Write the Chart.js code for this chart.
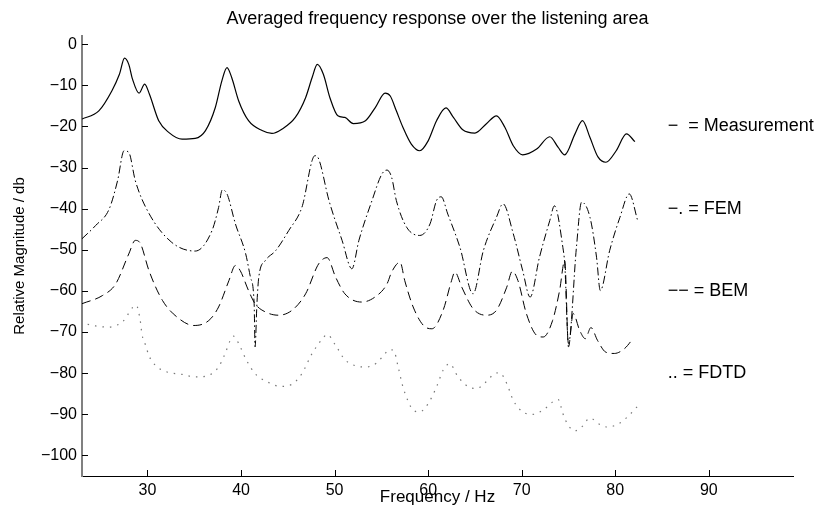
<!DOCTYPE html>
<html>
<head>
<meta charset="utf-8">
<title>Averaged frequency response</title>
<script src="https://cdn.jsdelivr.net/npm/chart.js@4.4.1/dist/chart.umd.min.js"></script>
<style>
    body { margin: 0; background: #ffffff; }
    canvas { display: block; }
</style>
</head>
<body>
<canvas id="response-chart" width="825" height="515"></canvas>
<script>
// Averaged frequency response - measurement vs. three simulation methods

// Measurement (solid)
const measFreq = [23.0, 24.8, 26.2, 27.0, 27.55, 28.0, 28.4, 29.1, 29.7, 30.2, 31.2, 32.3, 33.7, 35.1, 36.2, 37.25, 37.95, 38.5, 39.0, 39.75,
    40.8, 42.25, 43.3, 44.4, 45.8, 46.9, 47.6, 48.15, 48.8, 49.5, 50.35, 51.1, 52.0, 53.3, 54.35, 55.4, 55.95, 56.6, 57.3, 58.2,
    59.1, 60.0, 60.9, 61.9, 62.7, 63.7, 65.0, 66.2, 67.3, 68.2, 69.1, 70.1, 71.6, 73.0, 73.9, 74.6, 75.7, 76.5, 77.3, 78.15,
    79.0, 80.1, 81.2, 82.1];
const measDb = [-18.2, -16.2, -11.3, -7.3, -3.4, -4.9, -8.5, -11.9, -9.7, -12.1, -18.6, -21.5, -23.1, -22.9, -21.0, -15.4, -8.9, -5.7, -8.1, -13.8,
    -18.6, -21.0, -21.7, -20.6, -17.8, -13.0, -8.1, -4.9, -7.3, -13.0, -17.4, -17.8, -19.3, -18.6, -15.4, -11.9, -12.6, -16.2, -20.2, -24.3,
    -25.9, -23.5, -18.6, -15.5, -17.8, -20.8, -21.6, -19.4, -17.4, -20.2, -24.7, -26.9, -25.5, -22.5, -25.1, -26.9, -21.8, -18.6, -22.7, -27.4,
    -28.7, -25.9, -21.8, -23.7];

// FEM (dash-dot)
const femFreq = [23.0, 24.45, 25.9, 26.8, 27.5, 28.0, 28.7, 30.1, 32.6, 35.1, 36.9, 37.6, 38.0, 38.5, 39.4, 40.5, 41.0, 41.4, 41.5, 41.7,
    41.9, 42.6, 43.7, 45.1, 46.5, 47.9, 48.3, 49.4, 50.8, 51.85, 52.6, 54.0, 55.05, 55.6, 56.1, 56.6, 57.7, 59.1, 60.2, 60.9,
    61.4, 62.1, 63.4, 64.8, 65.9, 67.3, 68.0, 69.1, 70.1, 70.9, 71.9, 73.0, 73.5, 74.4, 74.6, 75.0, 75.85, 76.4, 77.3, 78.0,
    78.4, 79.4, 80.5, 81.5, 82.4];
const femDb = [-47.3, -44.1, -40.1, -33.2, -25.9, -26.3, -33.2, -40.9, -48.2, -50.3, -45.3, -39.7, -35.4, -36.4, -43.7, -51.0, -56.6, -63.1, -73.6, -63.0,
    -56.6, -52.6, -50.2, -45.3, -39.7, -27.1, -27.9, -38.0, -47.7, -54.6, -47.7, -38.0, -31.6, -30.6, -32.4, -38.0, -44.5, -46.5, -43.7, -38.0,
    -37.1, -41.3, -49.4, -60.7, -50.2, -42.1, -38.8, -46.1, -55.0, -61.5, -51.8, -42.9, -39.3, -49.4, -53.4, -72.8, -49.4, -38.4, -42.1, -51.8,
    -59.9, -50.2, -42.1, -36.4, -42.9];

// BEM (dashed)
const bemFreq = [23.0, 25.2, 26.6, 28.0, 28.7, 29.25, 30.15, 31.6, 33.35, 34.95, 36.55, 37.6, 38.7, 39.4, 39.9, 40.8, 41.5, 42.6, 44.0, 45.45,
    46.9, 48.3, 49.2, 50.1, 51.1, 52.9, 54.3, 55.6, 56.1, 57.0, 57.5, 58.4, 59.5, 60.4, 61.6, 62.5, 62.85, 63.6, 64.8, 66.2,
    67.3, 68.4, 69.0, 69.6, 70.5, 71.6, 72.3, 73.3, 74.05, 74.6, 75.0, 75.5, 76.2, 76.8, 77.4, 78.1, 79.0, 79.9, 81.0, 81.9];
const bemDb = [-63.1, -61.1, -58.3, -51.0, -47.7, -48.5, -55.0, -62.3, -66.7, -68.4, -67.2, -63.9, -57.5, -53.8, -55.0, -59.9, -63.1, -65.1, -65.9, -64.7,
    -60.7, -53.4, -51.9, -56.6, -60.7, -62.7, -61.5, -58.3, -55.4, -53.0, -57.5, -63.9, -68.4, -69.2, -64.7, -57.5, -55.4, -59.1, -64.3, -65.9,
    -64.7, -59.1, -55.2, -57.5, -65.5, -70.8, -71.2, -67.2, -59.9, -52.6, -73.6, -65.5, -69.6, -71.6, -68.9, -72.0, -74.9, -75.2, -74.0, -71.6];

// FDTD (dotted)
const fdtdFreq = [23.6, 24.45, 25.9, 26.6, 27.3, 28.8, 29.25, 29.4, 29.8, 30.15, 30.85, 32.1, 33.7, 35.1, 36.55, 37.6, 38.3, 38.85, 39.2, 39.75,
    40.5, 41.5, 42.8, 44.2, 45.45, 46.5, 47.6, 48.65, 49.2, 50.1, 51.1, 52.4, 53.3, 54.5, 55.4, 55.85, 56.3, 56.8, 57.3, 57.9,
    58.4, 59.1, 60.0, 60.9, 61.6, 62.3, 63.2, 64.3, 65.2, 66.2, 67.1, 67.65, 68.4, 69.1, 70.1, 71.2, 72.5, 73.3, 73.9, 74.4,
    74.95, 75.7, 76.4, 77.3, 78.3, 79.2, 80.5, 81.5, 82.4];
const fdtdDb = [-68.1, -68.5, -68.8, -68.4, -67.6, -63.5, -67.6, -70.4, -73.2, -75.7, -78.1, -79.7, -80.3, -80.9, -80.5, -78.5, -75.2, -72.0, -71.0, -72.8,
    -76.5, -80.1, -82.1, -83.2, -82.7, -80.1, -75.2, -71.8, -70.6, -73.2, -76.7, -78.3, -78.5, -77.5, -75.2, -74.3, -74.4, -78.5, -83.3, -87.0,
    -89.0, -89.4, -87.4, -83.3, -79.3, -77.7, -80.9, -83.3, -83.7, -82.1, -80.1, -79.9, -82.5, -86.6, -89.4, -90.0, -88.6, -87.0, -86.4, -89.8,
    -92.6, -94.0, -93.1, -90.9, -92.4, -93.1, -92.1, -90.2, -88.0];

// Axis ticks
const xTicks = [30, 40, 50, 60, 70, 80, 90];
const yTicks = [0, -10, -20, -30, -40, -50, -60, -70, -80, -90, -100];

// Line-style key written beside the curves
const noteText = ["\u2212  = Measurement", "\u2212. = FEM", "\u2212\u2212 = BEM", ".. = FDTD"];
const noteFreq = [85.6, 85.6, 85.6, 85.6];
const noteDb = [-20, -40, -60, -80];

const FONT = "'Liberation Sans', Arial, Helvetica, sans-serif";
Chart.defaults.font.family = FONT;
Chart.defaults.color = "#000";

function toPoints(xs, ys) {
    return xs.map((x, i) => ({ x: x, y: ys[i] }));
}

function minusLabel(v) {
    return v < 0 ? "\u2212" + Math.abs(v) : String(v);
}

// Matlab-style ticks pointing into the plot, plus the text key
const matlabExtras = {
    id: "matlabExtras",
    afterDraw(chart) {
        const { ctx, chartArea, scales } = chart;
        ctx.save();
        ctx.strokeStyle = "#000";
        ctx.lineWidth = 1;
        ctx.beginPath();
        xTicks.forEach((v) => {
            const px = Math.round(scales.x.getPixelForValue(v)) + 0.5;
            ctx.moveTo(px, chartArea.bottom);
            ctx.lineTo(px, chartArea.bottom - 6);
        });
        yTicks.forEach((v) => {
            const py = Math.round(scales.y.getPixelForValue(v)) + 0.5;
            ctx.moveTo(chartArea.left, py);
            ctx.lineTo(chartArea.left + 6, py);
        });
        ctx.stroke();

        ctx.fillStyle = "#000";
        ctx.font = "18px " + FONT;
        ctx.textAlign = "left";
        ctx.textBaseline = "middle";
        noteText.forEach((t, i) => {
            ctx.fillText(t, scales.x.getPixelForValue(noteFreq[i]), scales.y.getPixelForValue(noteDb[i]));
        });
        ctx.restore();
    },
};

const ctx = document.getElementById("response-chart").getContext("2d");

new Chart(ctx, {
    type: "line",
    data: {
        datasets: [
            {
                label: "Measurement",
                data: toPoints(measFreq, measDb),
                borderColor: "#000",
                borderWidth: 1.2,
                cubicInterpolationMode: "monotone",
            },
            {
                label: "FEM",
                data: toPoints(femFreq, femDb),
                borderColor: "#000",
                borderWidth: 1,
                borderDash: [8, 3, 1.5, 3],
                cubicInterpolationMode: "monotone",
            },
            {
                label: "BEM",
                data: toPoints(bemFreq, bemDb),
                borderColor: "#000",
                borderWidth: 1,
                borderDash: [9, 5],
                cubicInterpolationMode: "monotone",
            },
            {
                label: "FDTD",
                data: toPoints(fdtdFreq, fdtdDb),
                borderColor: "#777",
                borderWidth: 1.2,
                borderDash: [1.5, 6],
                cubicInterpolationMode: "monotone",
            },
        ],
    },
    options: {
        responsive: false,
        animation: false,
        devicePixelRatio: 1,
        elements: { point: { radius: 0 } },
        layout: { padding: { left: 0, right: 32, top: 0, bottom: 0 } },
        plugins: {
            legend: { display: false },
            tooltip: { enabled: false },
            title: {
                display: true,
                text: "Averaged frequency response over the listening area",
                fullSize: false,
                color: "#000",
                font: { size: 18, weight: "normal" },
                padding: { top: 8, bottom: 6.4 },
            },
        },
        scales: {
            x: {
                type: "linear",
                min: 23,
                max: 99,
                afterBuildTicks: (s) => { s.ticks = xTicks.map((v) => ({ value: v })); },
                afterFit: (s) => { s.height = 39; },
                grid: { drawOnChartArea: false, drawTicks: false },
                border: { color: "#000", width: 1 },
                ticks: { padding: 5, font: { size: 16 }, callback: minusLabel, maxRotation: 0 },
                title: { display: true, text: "Frequency / Hz", font: { size: 17 }, padding: { top: 0, bottom: 7.5 } },
            },
            y: {
                min: -105,
                max: 2,
                afterBuildTicks: (s) => { s.ticks = yTicks.map((v) => ({ value: v })); },
                afterFit: (s) => { s.width = 82; },
                grid: { drawOnChartArea: false, drawTicks: false },
                border: { color: "#808080", width: 2 },
                ticks: { padding: 5, font: { size: 16 }, callback: minusLabel },
                title: { display: true, text: "Relative Magnitude / db", font: { size: 15 }, padding: { top: 11, bottom: 0 } },
            },
        },
    },
    plugins: [matlabExtras],
});
</script>
</body>
</html>
